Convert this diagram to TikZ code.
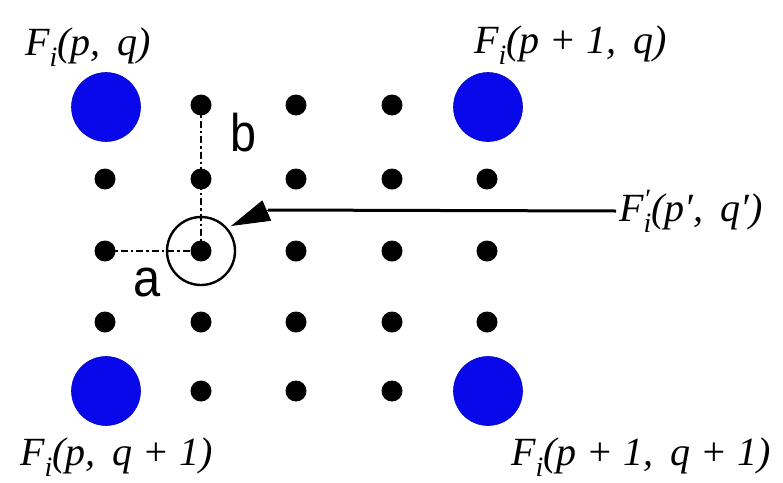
\documentclass[tikz,border=0pt]{standalone}
\usepackage{fontspec}
\setmainfont{Liberation Serif}
\newfontfamily\arialf{Liberation Sans}
\usetikzlibrary{arrows.meta}
\definecolor{bigblue}{RGB}{8,8,235}
\newcommand\Fsb[1]{\textit{F}\raisebox{-0.28em}{\fontsize{28}{28}\selectfont\textit{#1}}}
\newcommand\Fps{\textit{F}\rlap{\raisebox{0.32em}{\fontsize{28}{28}\selectfont\textit{\char"2032}}}\raisebox{-0.28em}{\fontsize{28}{28}\selectfont\textit{i}}}
\newcommand\cm{,\hspace{0.42em}}
\begin{document}
\begin{tikzpicture}[x=1pt,y=-1pt,
  bigdot/.style={circle,fill=bigblue,draw=bigblue!80!black,line width=0.6pt,minimum size=69pt,inner sep=0pt},
  smalldot/.style={circle,fill=black,minimum size=21pt,inner sep=0pt},
  ring/.style={circle,draw=black,line width=2.4pt,minimum size=68pt,inner sep=0pt},
  lbl/.style={font=\fontsize{40}{42}\selectfont\itshape,inner sep=0pt},
  sanslbl/.style={font=\arialf\fontsize{53}{55}\selectfont,inner sep=0pt},
  dd/.style={line width=2.6pt,dash pattern=on 7pt off 3pt on 2.5pt off 3pt}]
\useasboundingbox (0,0) rectangle (783,482);
\fill[white] (0,0) rectangle (783,482);
% big blue corners
\node[bigdot] (b11) at (106,107) {};
\node[bigdot] (b15) at (488,107) {};
\node[bigdot] (b51) at (106,391) {};
\node[bigdot] (b55) at (488,391) {};
% small black dots
\node[smalldot] (d12) at (201,105) {};
\node[smalldot] (d13) at (296,105) {};
\node[smalldot] (d14) at (392,105) {};
\node[smalldot] (d21) at (105,179) {};
\node[smalldot] (d22) at (201,179) {};
\node[smalldot] (d23) at (296,179) {};
\node[smalldot] (d24) at (392,179) {};
\node[smalldot] (d25) at (487,179) {};
\node[smalldot] (d31) at (105,251) {};
\node[smalldot] (d32) at (201,251) {};
\node[smalldot] (d33) at (296,251) {};
\node[smalldot] (d34) at (392,251) {};
\node[smalldot] (d35) at (487,251) {};
\node[smalldot] (d41) at (105,322) {};
\node[smalldot] (d42) at (201,322) {};
\node[smalldot] (d43) at (296,322) {};
\node[smalldot] (d44) at (392,322) {};
\node[smalldot] (d45) at (487,322) {};
\node[smalldot] (d52) at (201,391) {};
\node[smalldot] (d53) at (296,391) {};
\node[smalldot] (d54) at (392,391) {};
% ring
\node[ring] (circ) at (201,251) {};
% dash-dot distances
\draw[dd] (d12.center) -- (d32.center);
\draw[dd] (d31.center) -- (d32.center);
\node[sanslbl,xscale=0.88] (lb) at (243,133) {b};
\node[sanslbl,xscale=0.92] (la) at (147,282) {a};
% labels
\node[lbl,anchor=base west] (t1) at (25,55) {\Fsb{i}(\textit{p}\cm\textit{q})};
\node[lbl,anchor=base west] (t2) at (474,53) {\Fsb{i}(\textit{p} + \textit{1}\cm\textit{q})};
\node[lbl,anchor=base west] (t3) at (20,465) {\Fsb{i}(\textit{p}\cm\textit{q} + \textit{1})};
\node[lbl,anchor=base west] (t4) at (511,465) {\Fsb{i}(\textit{p} + \textit{1}\cm\textit{q} + \textit{1})};
\node[lbl,anchor=base west] (t5) at (619,221) {\Fps(\textit{p}\char"2032\cm\textit{q}\char"2032)};
% arrow
\coordinate (ae) at (616,211);
\coordinate (ab) at (268,210);
\draw[line width=3pt] (ae) -- (ab);
\draw[line width=1pt,-{Triangle[length=39pt,width=22pt]}] (ab) -- (231,226);
\end{tikzpicture}
\end{document}
